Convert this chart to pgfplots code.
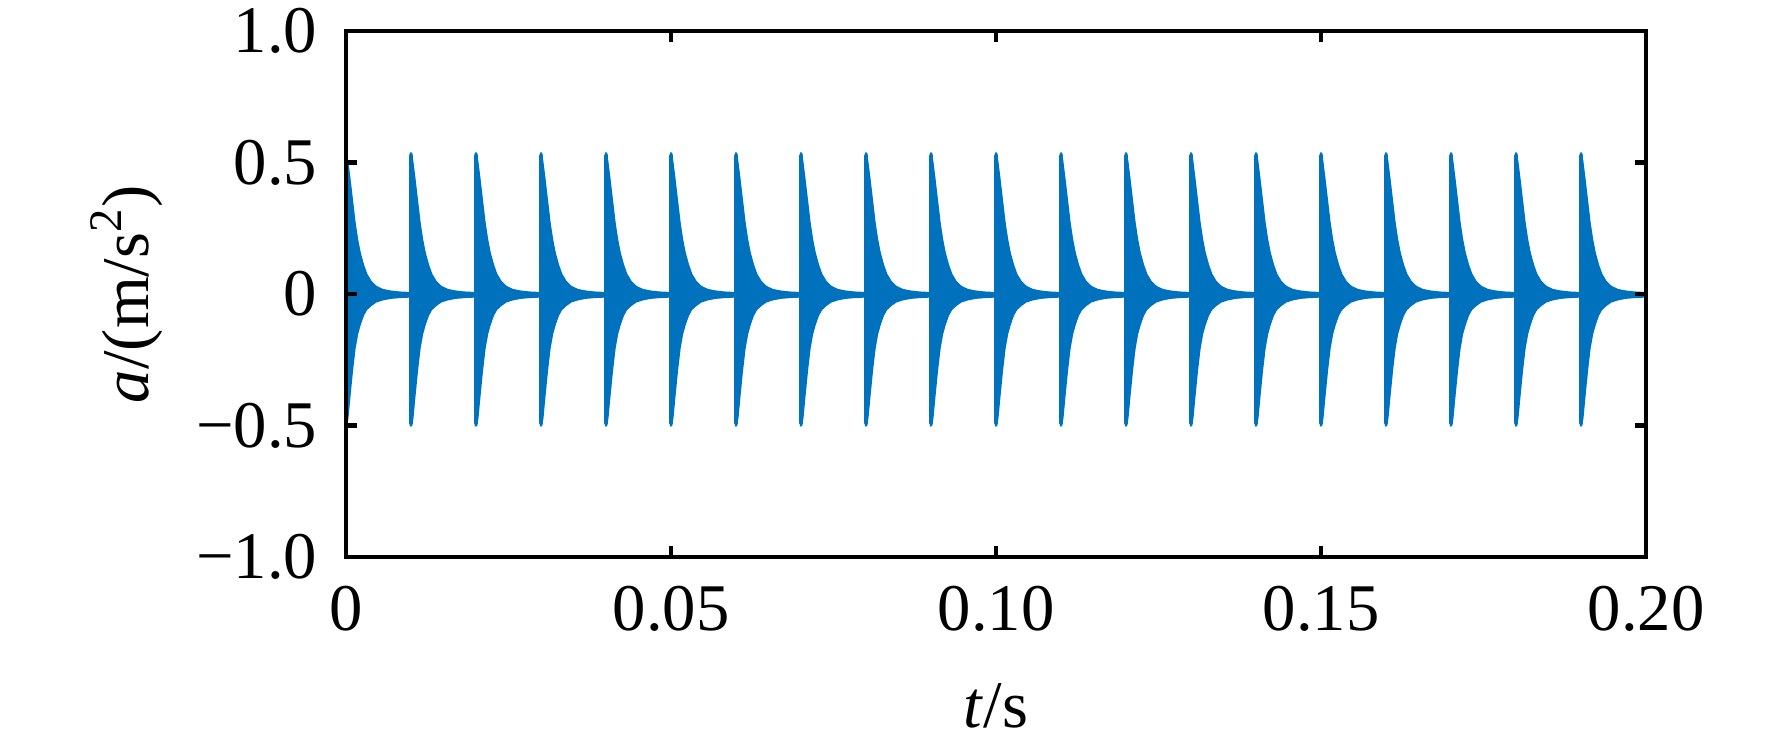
\documentclass[border=0pt]{standalone}
\usepackage{fontspec}
\setmainfont{Liberation Serif}
\usepackage{pgfplots}
\pgfplotsset{compat=1.18}
\usepackage{pgfplotstable}
\definecolor{mblue}{RGB}{0,114,189}
% one burst of the decaying response (time relative to the impulse)
\pgfplotstableread{
t      up     lo
0      0.535  -0.500
0.0002 0.500  -0.470
0.0005 0.440  -0.390
0.0009 0.355  -0.290
0.0013 0.270  -0.205
0.0017 0.205  -0.150
0.0021 0.155  -0.115
0.0026 0.110  -0.080
0.0031 0.075  -0.058
0.0038 0.046  -0.042
0.0046 0.027  -0.028
0.0056 0.015  -0.020
0.0068 0.009  -0.014
0.0082 0.005  -0.011
0.0099 0.003  -0.009
}\burst
% the impulse spike itself
\pgfplotstableread{
t      a
0      0.525
0     -0.490
}\spike
\begin{document}
\begin{tikzpicture}
\path[use as bounding box] (-83.04pt,-45.84pt) rectangle (342.24pt,133.68pt);
\begin{axis}[
  at={(0,0)}, anchor=south west,
  width=312pt, height=126.24pt, scale only axis,
  xmin=0, xmax=0.2, ymin=-1, ymax=1,
  xtick={0,0.05,0.1,0.15,0.2}, xticklabels={0,0.05,0.10,0.15,0.20},
  ytick={-1,-0.5,0,0.5,1}, yticklabels={−1.0,−0.5,0,0.5,1.0},
  tick align=inside, tick pos=both, major tick length=2.6pt,
  axis line style={line width=1.1pt},
  major tick style={black, line width=1.1pt},
  axis on top,
  tick label style={font=\fontsize{16}{19}\selectfont, inner sep=0pt},
  xticklabel style={anchor=north, yshift=-6.7pt},
  yticklabel style={anchor=east, xshift=-6.7pt},
  label style={font=\fontsize{16}{19}\selectfont, inner sep=0pt},
  xlabel={\textit{t}/s},
  ylabel={\textit{a}/(m/s\textsuperscript{2})},
  xlabel style={at={(axis description cs:0.5,0)}, anchor=base, yshift=-40.8pt},
  ylabel style={at={(axis description cs:-0.1522,0.5)}, anchor=base},
]
\pgfplotsinvokeforeach{0,...,19}{
  \addplot[mblue, fill=mblue, line width=0.6pt, line join=round, line cap=round]
    table[x expr=\thisrow{t}+#1*0.01, y=up] {\burst} \closedcycle;
  \addplot[mblue, fill=mblue, line width=0.6pt, line join=round, line cap=round]
    table[x expr=\thisrow{t}+#1*0.01, y=lo] {\burst} \closedcycle;
  \addplot[mblue, line width=1.0pt, line cap=round]
    table[x expr=\thisrow{t}+#1*0.01+0.00005, y=a] {\spike};
}
\addplot[mblue, line width=1pt] coordinates {(0.2,0) (0.2,0.225)};
\end{axis}
\end{tikzpicture}
\end{document}
